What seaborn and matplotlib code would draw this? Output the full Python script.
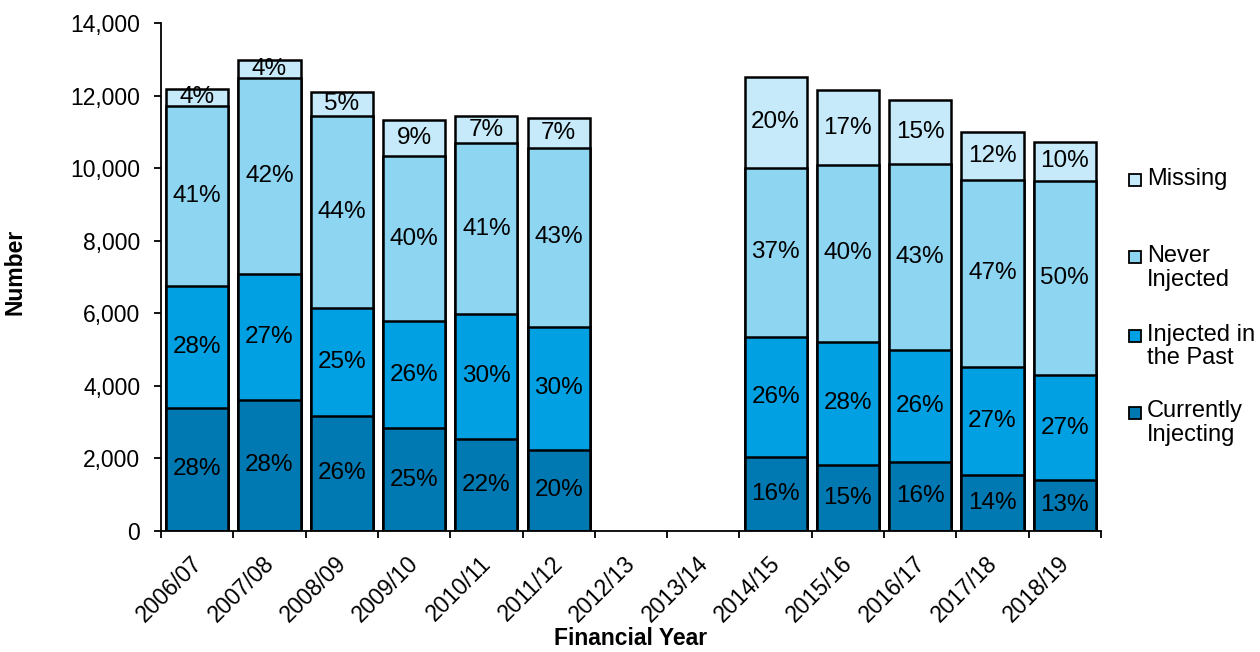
import numpy as np
import pandas as pd
import matplotlib
matplotlib.use("Agg")
import matplotlib.pyplot as plt
from matplotlib.patches import Rectangle
from matplotlib.transforms import ScaledTranslation
import seaborn as sns

# --- Daten ---
years = ["2006/07", "2007/08", "2008/09", "2009/10", "2010/11", "2011/12",
         "2012/13", "2013/14", "2014/15", "2015/16", "2016/17", "2017/18", "2018/19"]
currently = [3381, 3600, 3166, 2820, 2530, 2230, np.nan, np.nan, 2040, 1800, 1903, 1541, 1395]
past      = [3379, 3480, 2986, 2959, 3453, 3400, np.nan, np.nan, 3300, 3420, 3093, 2973, 2897]
never     = [4964, 5400, 5293, 4555, 4705, 4928, np.nan, np.nan, 4680, 4860, 5115, 5175, 5364]
missing   = [467, 494, 660, 989, 752, 832, np.nan, np.nan, 2510, 2067, 1784, 1321, 1073]

series_names = ["Currently\nInjecting", "Injected in\nthe Past", "Never\nInjected", "Missing"]
colors = ["#0079B2", "#00A0E2", "#8ED5F2", "#C6EAF9"]

df = pd.DataFrame({"Jahr": years, "cur": currently, "past": past,
                   "never": never, "miss": missing})
layers = ["cur", "past", "never", "miss"]
cum = df[layers].cumsum(axis=1)
total = cum["miss"]

# --- Stil ---
sns.set_style("ticks")
plt.rcParams["font.family"] = ["Liberation Sans", "DejaVu Sans"]
for key in ["text.color", "axes.labelcolor", "xtick.color", "ytick.color", "axes.edgecolor"]:
    plt.rcParams[key] = "black"

fig = plt.figure(figsize=(12.6, 6.52), dpi=100)
ax = fig.add_axes([161 / 1260, 1 - 530.7 / 652, 940 / 1260, 507.4 / 652])

# gestapelte Balken: von oben nach unten übereinander zeichnen
for layer, col in zip(layers[::-1], colors[::-1]):
    sns.barplot(x=df["Jahr"], y=cum[layer], order=years, color=col, saturation=1,
                edgecolor="black", linewidth=1.8, width=0.86, errorbar=None, ax=ax)

# Prozent-Beschriftungen
for i in range(len(years)):
    if np.isnan(total[i]):
        continue
    bottom = 0
    for layer in layers:
        v = df[layer][i]
        pct = int(round(v / total[i] * 100))
        ax.text(i, bottom + v / 2, f"{pct}%", ha="center", va="center",
                fontsize=17.5, color="black")
        bottom += v

# Achsen
ax.set_ylim(0, 14000)
ax.set_yticks(np.arange(0, 14001, 2000))
ax.yaxis.set_major_formatter(matplotlib.ticker.FuncFormatter(lambda v, p: f"{int(v):,}"))
ax.set_xlim(-0.5, len(years) - 0.5)
ax.set_xticks(np.arange(len(years)))
ax.set_xticklabels(years, rotation=45, ha="right", rotation_mode="anchor")
ax.set_xticks(np.arange(-0.5, len(years), 1), minor=True)
ax.tick_params(axis="x", which="major", length=0, pad=13, labelsize=16.5)
ax.tick_params(axis="x", which="minor", length=5, width=1.3, direction="out")
ax.tick_params(axis="y", length=5, width=1.3, pad=10, labelsize=16.5)
shift = ScaledTranslation(-7 / 100, -3 / 100, fig.dpi_scale_trans)
for lbl in ax.get_xticklabels():
    lbl.set_transform(lbl.get_transform() + shift)
for s in ["left", "bottom"]:
    ax.spines[s].set_linewidth(1.3)
sns.despine(ax=ax)
ax.grid(False)

ax.set_ylabel("Number", fontsize=16.5, fontweight="bold")
ax.yaxis.set_label_coords(-0.143, 0.51)
ax.set_xlabel("Financial Year", fontsize=16.5, fontweight="bold")
ax.xaxis.set_label_coords(0.5, -0.19)

# Legende (manuell, Excel-artig)
leg_order = [3, 2, 1, 0]
first_line_y = [180, 257.5, 336, 412.5]
for k, y in zip(leg_order, first_line_y):
    fig.patches.append(Rectangle((1129 / 1260, 1 - (y + 6) / 652), 12 / 1260, 12 / 652,
                                 transform=fig.transFigure, facecolor=colors[k],
                                 edgecolor="black", linewidth=1.3))
    fig.text(1147 / 1260, 1 - (y - 12.5) / 652, series_names[k], ha="left", va="top",
             fontsize=17, linespacing=1.1)

fig.savefig("out.png", dpi=100)
